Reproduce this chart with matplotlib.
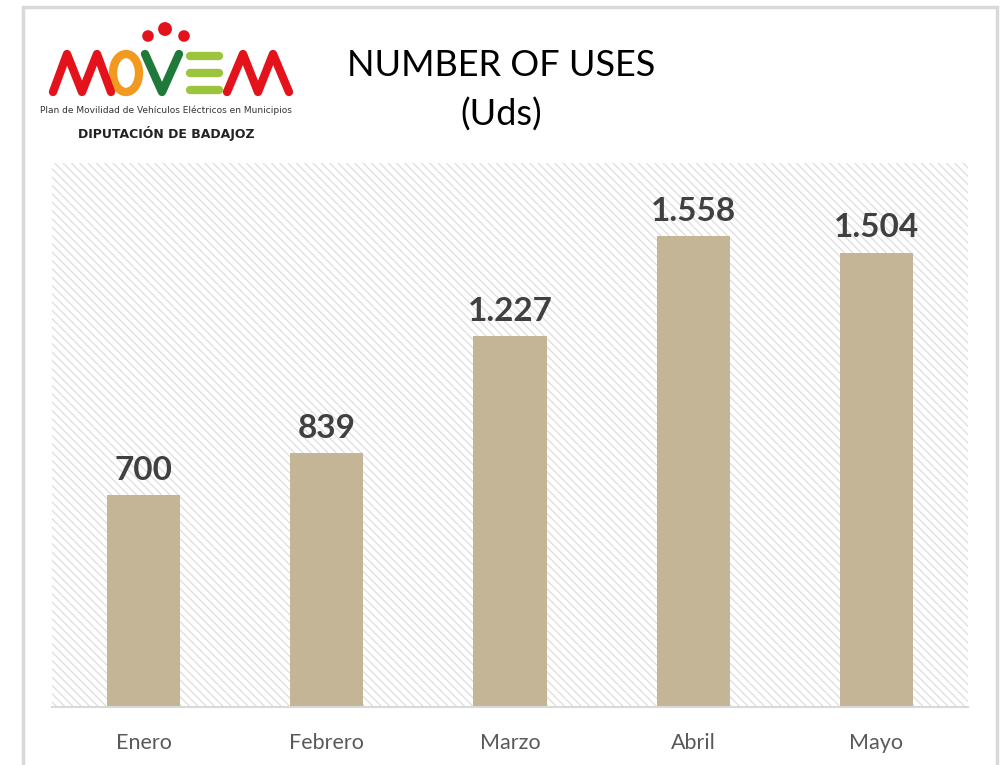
import matplotlib
matplotlib.use("Agg")
import matplotlib.pyplot as plt
from matplotlib.patches import Rectangle, Ellipse

# datos
meses = ["Enero", "Febrero", "Marzo", "Abril", "Mayo"]
usos = [700, 839, 1227, 1558, 1504]
etiquetas = ["700", "839", "1.227", "1.558", "1.504"]

plt.rcParams['font.family'] = ['Lato', 'DejaVu Sans']
plt.rcParams['hatch.linewidth'] = 1.0

fig = plt.figure(figsize=(10, 7.65), dpi=100)

# marco gris de la imagen
fig.patches.append(Rectangle((0.023, -0.1), 0.974, 1.091, transform=fig.transFigure,
                             fill=False, edgecolor='#d9d9d9', linewidth=2.5))

ax = fig.add_axes([0.052, 0.0758, 0.916, 0.711])
ax.set_facecolor('white')

# fondo rayado
ax.add_patch(Rectangle((0, 0), 1, 1, transform=ax.transAxes, facecolor='white',
                       edgecolor='#e0e0e0', hatch='\\\\\\\\', linewidth=0, zorder=0))

x = range(len(meses))
ax.bar(x, usos, width=0.4, color='#c4b596', zorder=2)

for i, v in enumerate(usos):
    ax.text(i, v + 35, etiquetas[i], ha='center', va='bottom', fontsize=24,
            fontweight='bold', color='#404040')

ax.set_xlim(-0.5, len(meses) - 0.5)
ax.set_ylim(0, 1800)
ax.set_yticks([])
ax.set_xticks(list(x))
ax.set_xticklabels(meses, fontsize=15.5, color='#595959')
ax.tick_params(axis='x', length=0, pad=19)
for s in ['top', 'left', 'right']:
    ax.spines[s].set_visible(False)
ax.spines['bottom'].set_color('#d9d9d9')
ax.spines['bottom'].set_linewidth(1.5)

# titulo
fig.text(0.501, 0.915, "NUMBER OF USES", ha='center', va='center', fontsize=26, color='black')
fig.text(0.501, 0.85, "(Uds)", ha='center', va='center', fontsize=26, color='black')

# logo MOVEM dibujado con trazos (coordenadas en pixeles)
lg = fig.add_axes([0, 0, 1, 1], facecolor='none')
lg.set_xlim(0, 1000)
lg.set_ylim(765, 0)
lg.axis('off')
trazo = dict(lw=6, solid_capstyle='round', solid_joinstyle='round')
lg.plot([53, 67, 82, 97, 111], [92, 54, 92, 54, 92], color='#e3121b', **trazo)
lg.add_patch(Ellipse((126, 73), 26, 38, fill=False, edgecolor='#f29a1f', lw=6))
lg.plot([145, 162, 179], [54, 92, 54], color='#1f7a3a', **trazo)
for yb in [56, 73, 90]:
    lg.plot([190, 219], [yb, yb], color='#9cc43c', **trazo)
lg.plot([227, 243, 258, 273, 289], [92, 54, 92, 54, 92], color='#e3121b', **trazo)
lg.scatter([148, 165, 184], [36, 29, 36], s=[70, 100, 70], color='#e3121b', lw=0)

fig.text(0.166, 0.856, "Plan de Movilidad de Vehículos Eléctricos en Municipios", ha='center',
         va='center', fontsize=6.5, color='#333333', family='DejaVu Sans')
fig.text(0.166, 0.826, "DIPUTACIÓN DE BADAJOZ", ha='center', va='center', fontsize=9,
         fontweight='bold', color='#222222', family='DejaVu Sans')

fig.savefig("out.png", dpi=100)
